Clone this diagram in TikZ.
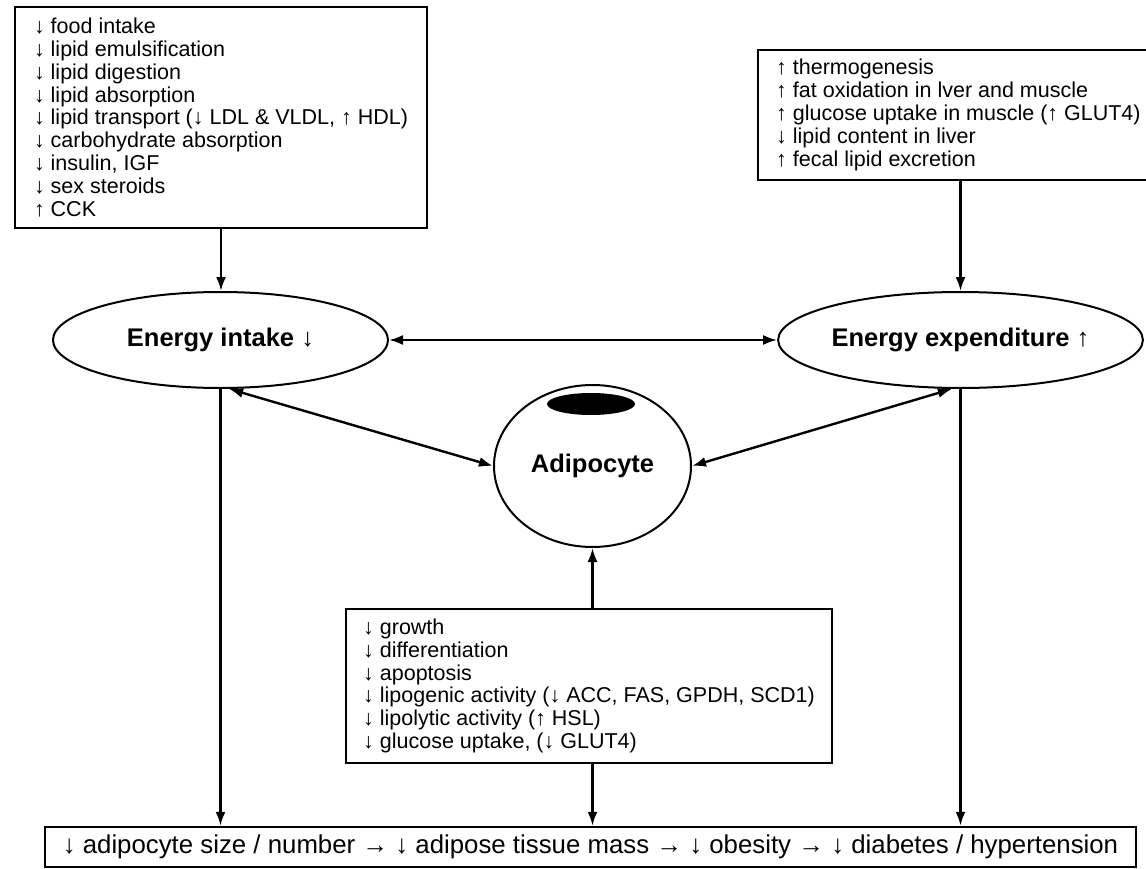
\documentclass[tikz,border=0pt]{standalone}
\usepackage{fontspec}
\setmainfont{Liberation Sans}
\usetikzlibrary{arrows.meta,shapes.geometric}
\begin{document}
\begin{tikzpicture}[x=1pt,y=-1pt,
  >={Latex[length=14pt,width=10pt]},
  listbox/.style={draw,line width=2.4pt,align=left,inner xsep=18pt,inner ysep=0pt,font=\fontsize{21.5}{22.8}\selectfont},
  oval/.style={draw,ellipse,line width=2pt,inner sep=0pt,font=\fontsize{25.5}{28}\selectfont\bfseries},
  link/.style={line width=2.4pt}]
\useasboundingbox (0,0) rectangle (1146,869);
\node[listbox,minimum width=412pt,minimum height=221pt] (intakebox) at (221,117.5) {↓ food intake\\
↓ lipid emulsification\\
↓ lipid digestion\\
↓ lipid absorption\\
↓ lipid transport (↓ LDL \& VLDL, ↑ HDL)\\
↓ carbohydrate absorption\\
↓ insulin, IGF\\
↓ sex steroids\\
↑ CCK};
\node[listbox,minimum height=130pt,anchor=west] (spendbox) at (757,115) {↑ thermogenesis\\
↑ fat oxidation in lver and muscle\\
↑ glucose uptake in muscle (↑ GLUT4)\\
↓ lipid content in liver\\
↑ fecal lipid excretion};
\node[oval,minimum width=335pt,minimum height=96pt] (intake) at (220.5,340) {Energy intake \textmd{↓}};
\node[oval,minimum width=335pt,minimum height=96pt] (spend) at (960.5,340) {Energy expenditure \textmd{↑}};
\node[oval,minimum width=197pt,minimum height=162pt] (adipocyte) at (592.5,466) {\\[8pt]Adipocyte};
\node[fill,ellipse,inner sep=0pt,minimum width=88pt,minimum height=22pt] (nucleus) at (591,404) {};
\node[listbox,minimum width=486pt,minimum height=154pt,inner xsep=16pt] (cellbox) at (589,686) {↓ growth\\
↓ differentiation\\
↓ apoptosis\\
↓ lipogenic activity (↓ ACC, FAS, GPDH, SCD1)\\
↓ lipolytic activity (↑ HSL)\\
↓ glucose uptake, (↓ GLUT4)};
\node[draw,line width=2.4pt,minimum width=1091pt,minimum height=40pt,inner sep=0pt,font=\fontsize{25.8}{28}\selectfont] (result) at (590.5,847) {↓ adipocyte size / number → ↓ adipose tissue mass → ↓ obesity → ↓ diabetes / hypertension};
\draw[link,->] (intakebox.south) -- (intakebox.south |- intake.north);
\draw[link,->] (spend.north |- spendbox.south) -- (spend.north);
\draw[link,<->] (intake.east) -- (spend.west);
\draw[link,<->] (intake.-80) -- (adipocyte.west);
\draw[link,<->] (spend.-100) -- (adipocyte.east);
\draw[link,->] (adipocyte.south |- cellbox.north) -- (adipocyte.south);
\draw[link,->] (intake.south) -- (intake.south |- result.north);
\draw[link,->] (spend.south) -- (spend.south |- result.north);
\draw[link,->] (adipocyte.south |- cellbox.south) -- (adipocyte.south |- result.north);
\end{tikzpicture}
\end{document}
